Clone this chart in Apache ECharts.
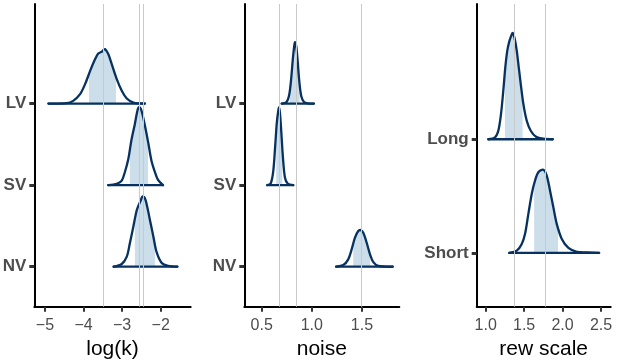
<!DOCTYPE html>
<html>
<head>
<meta charset="utf-8">
<script src="https://cdn.jsdelivr.net/npm/echarts@6/dist/echarts.min.js"></script>
<style>
  html, body { margin: 0; padding: 0; background: #fff; }
  #chart { width: 617px; height: 364px; }
</style>
</head>
<body>
<div id="chart"></div>
<script>
// log(k) panel
const logkCats = ['NV', 'SV', 'LV'];
const logkTicks = [-5, -4, -3, -2];
const logkMedians = [-3.505, -2.557, -2.435];
const logkNV = [[-3.22, 0], [-3.01, 0.033], [-2.88, 0.123], [-2.80, 0.287], [-2.71, 0.49], [-2.62, 0.696], [-2.53, 0.80], [-2.47, 0.86], [-2.41, 0.84], [-2.35, 0.736], [-2.28, 0.573], [-2.19, 0.368], [-2.11, 0.184], [-1.98, 0.049], [-1.81, 0.01], [-1.57, 0]];
const logkSV = [[-3.36, 0], [-3.14, 0.016], [-3.01, 0.056], [-2.93, 0.158], [-2.84, 0.32], [-2.76, 0.55], [-2.67, 0.75], [-2.60, 0.92], [-2.56, 0.955], [-2.50, 0.915], [-2.41, 0.73], [-2.32, 0.51], [-2.24, 0.30], [-2.15, 0.16], [-2.07, 0.065], [-1.94, 0]];
const logkLV = [[-4.91, 0], [-4.44, 0.005], [-4.27, 0.033], [-4.09, 0.115], [-3.96, 0.238], [-3.83, 0.40], [-3.70, 0.545], [-3.62, 0.613], [-3.53, 0.634], [-3.45, 0.667], [-3.36, 0.606], [-3.27, 0.483], [-3.14, 0.30], [-3.01, 0.156], [-2.88, 0.061], [-2.71, 0.012], [-2.54, 0.002], [-2.41, 0]];
const logkShades = [[-2.67, -2.15], [-2.80, -2.33], [-3.86, -3.16]];

// noise panel
const noiseCats = ['NV', 'SV', 'LV'];
const noiseTicks = [0.5, 1.0, 1.5];
const noiseMedians = [0.676, 0.836, 1.494];
const noiseNV = [[1.243, 0], [1.314, 0.02], [1.363, 0.09], [1.397, 0.212], [1.43, 0.356], [1.463, 0.437], [1.487, 0.449], [1.513, 0.417], [1.547, 0.294], [1.58, 0.151], [1.613, 0.056], [1.663, 0.01], [1.806, 0]];
const noiseSV = [[0.556, 0], [0.590, 0.02], [0.616, 0.175], [0.636, 0.50], [0.650, 0.75], [0.663, 0.89], [0.672, 0.952], [0.682, 0.89], [0.695, 0.666], [0.712, 0.34], [0.732, 0.093], [0.759, 0.02], [0.815, 0]];
const noiseLV = [[0.70, 0], [0.749, 0.02], [0.775, 0.11], [0.795, 0.314], [0.809, 0.52], [0.822, 0.68], [0.832, 0.752], [0.845, 0.70], [0.859, 0.52], [0.875, 0.274], [0.895, 0.09], [0.922, 0.02], [0.96, 0.003], [1.021, 0]];
const noiseShades = [[1.413, 1.58], [0.645, 0.705], [0.78, 0.88]];

// rew scale panel
const rewCats = ['Short', 'Long'];
const rewTicks = [1.0, 1.5, 2.0, 2.5];
const rewMedians = [1.368, 1.78];
const rewShort = [[1.307, 0], [1.404, 0.02], [1.469, 0.079], [1.512, 0.168], [1.555, 0.344], [1.599, 0.519], [1.642, 0.637], [1.685, 0.71], [1.750, 0.732], [1.794, 0.681], [1.837, 0.548], [1.880, 0.402], [1.924, 0.256], [1.990, 0.123], [2.076, 0.044], [2.185, 0.01], [2.315, 0.005], [2.475, 0]];
const rewLong = [[1.034, 0], [1.121, 0.016], [1.164, 0.075], [1.199, 0.222], [1.229, 0.427], [1.255, 0.633], [1.281, 0.78], [1.307, 0.861], [1.333, 0.912], [1.352, 0.935], [1.378, 0.883], [1.404, 0.78], [1.430, 0.633], [1.456, 0.486], [1.490, 0.31], [1.534, 0.163], [1.586, 0.075], [1.655, 0.022], [1.750, 0.005], [1.872, 0]];
const rewShades = [[1.63, 1.94], [1.25, 1.48]];

const FONT = 'Liberation Sans, Arial, Helvetica, sans-serif';
const LINE = '#07325f';
const SHADE = '#cddeeb';
const VLINE = '#c9c9c9';

const chart = echarts.init(document.getElementById('chart'), null, { renderer: 'canvas' });

// height of the curve at x (between read points), only for the shade edges
function heightAt(curve, x) {
  for (let i = 1; i < curve.length; i++) {
    const a = curve[i - 1], b = curve[i];
    if (x >= a[0] && x <= b[0]) {
      const t = (x - a[0]) / (b[0] - a[0]);
      return a[1] + t * (b[1] - a[1]);
    }
  }
  return 0;
}

function shadeSeries(idx, curve, shade, base) {
  return {
    type: 'custom',
    xAxisIndex: idx,
    yAxisIndex: idx,
    z: 1,
    silent: true,
    data: curve.map(p => [p[0], base + p[1]]),
    renderItem: (params, api) => {
      if (params.dataIndex !== 0) return null;
      const pts = [api.coord([shade[0], base]), api.coord([shade[0], base + heightAt(curve, shade[0])])];
      curve.forEach(p => {
        if (p[0] > shade[0] && p[0] < shade[1]) pts.push(api.coord([p[0], base + p[1]]));
      });
      pts.push(api.coord([shade[1], base + heightAt(curve, shade[1])]));
      pts.push(api.coord([shade[1], base]));
      return { type: 'polygon', shape: { points: pts }, style: { fill: SHADE, stroke: null } };
    },
  };
}

function outlineSeries(idx, curve, base) {
  return {
    type: 'custom',
    xAxisIndex: idx,
    yAxisIndex: idx,
    z: 3,
    silent: true,
    data: curve.map(p => [p[0], base + p[1]]),
    renderItem: (params, api) => {
      if (params.dataIndex !== 0) return null;
      const pts = curve.map(p => api.coord([p[0], base + p[1]]));
      const a = pts[0], b = pts[pts.length - 1];
      const stroke = { fill: null, stroke: LINE, lineWidth: 2.3, lineJoin: 'round', lineCap: 'round' };
      return {
        type: 'group',
        children: [
          { type: 'polyline', shape: { points: pts, smooth: 0.3 }, style: stroke },
          { type: 'line', shape: { x1: a[0], y1: a[1], x2: b[0], y2: b[1] }, style: stroke },
        ],
      };
    },
  };
}

function vlineSeries(idx, medians) {
  return {
    type: 'line',
    xAxisIndex: idx,
    yAxisIndex: idx,
    z: 2,
    data: [],
    markLine: {
      silent: true,
      symbol: 'none',
      label: { show: false },
      lineStyle: { color: VLINE, width: 1, type: 'solid' },
      data: medians.map(v => ({ xAxis: v })),
    },
  };
}

function xAxis(idx, min, max, ticks, name, fmt) {
  return {
    type: 'value',
    gridIndex: idx,
    min: min,
    max: max,
    name: name,
    nameLocation: 'middle',
    nameGap: 32,
    nameTextStyle: { fontFamily: FONT, fontSize: 21, color: '#000' },
    axisLine: { show: true, onZero: false, lineStyle: { color: '#000', width: 2 } },
    axisTick: { show: true, length: 5, customValues: ticks, lineStyle: { color: '#333', width: 2 } },
    axisLabel: {
      customValues: ticks,
      margin: 11,
      fontFamily: FONT,
      fontSize: 16,
      color: '#4d4d4d',
      formatter: fmt,
    },
    splitLine: { show: false },
  };
}

function yAxis(idx, min, max, cats) {
  const vals = cats.map((c, i) => i + 1);
  return {
    type: 'value',
    gridIndex: idx,
    min: min,
    max: max,
    axisLine: { show: true, lineStyle: { color: '#000', width: 2 } },
    axisTick: { show: true, length: 5, customValues: vals, lineStyle: { color: '#333', width: 3 } },
    axisLabel: {
      customValues: vals,
      margin: 8,
      fontFamily: FONT,
      fontSize: 17,
      fontWeight: 'bold',
      color: '#4d4d4d',
      formatter: v => cats[Math.round(v) - 1] || '',
    },
    splitLine: { show: false },
  };
}

const minusFmt = v => String(v).replace('-', '\u2212');
const oneDec = v => v.toFixed(1);

const series = [];
[[logkNV, logkSV, logkLV], [noiseNV, noiseSV, noiseLV], [rewShort, rewLong]].forEach((curves, idx) => {
  const shades = [logkShades, noiseShades, rewShades][idx];
  curves.forEach((c, i) => series.push(shadeSeries(idx, c, shades[i], i + 1)));
  curves.forEach((c, i) => series.push(outlineSeries(idx, c, i + 1)));
});
series.push(vlineSeries(0, logkMedians));
series.push(vlineSeries(1, noiseMedians));
series.push(vlineSeries(2, rewMedians));

const option = {
  animation: false,
  backgroundColor: '#fff',
  grid: [
    { left: 34.3, right: 426.3, top: 4, bottom: 57.3, outerBoundsMode: 'none' },
    { left: 244.3, right: 217.7, top: 4, bottom: 57.3, outerBoundsMode: 'none' },
    { left: 476.7, right: 6.3, top: 4, bottom: 57.3, outerBoundsMode: 'none' },
  ],
  xAxis: [
    xAxis(0, -5.277, -1.223, logkTicks, 'log(k)', minusFmt),
    xAxis(1, 0.327, 1.872, noiseTicks, 'noise', oneDec),
    xAxis(2, 0.883, 2.626, rewTicks, 'rew scale', oneDec),
  ],
  yAxis: [
    yAxis(0, 0.51, 4.22, logkCats),
    yAxis(1, 0.51, 4.22, noiseCats),
    yAxis(2, 0.527, 3.19, rewCats),
  ],
  series: series,
};

chart.setOption(option);
</script>
</body>
</html>
